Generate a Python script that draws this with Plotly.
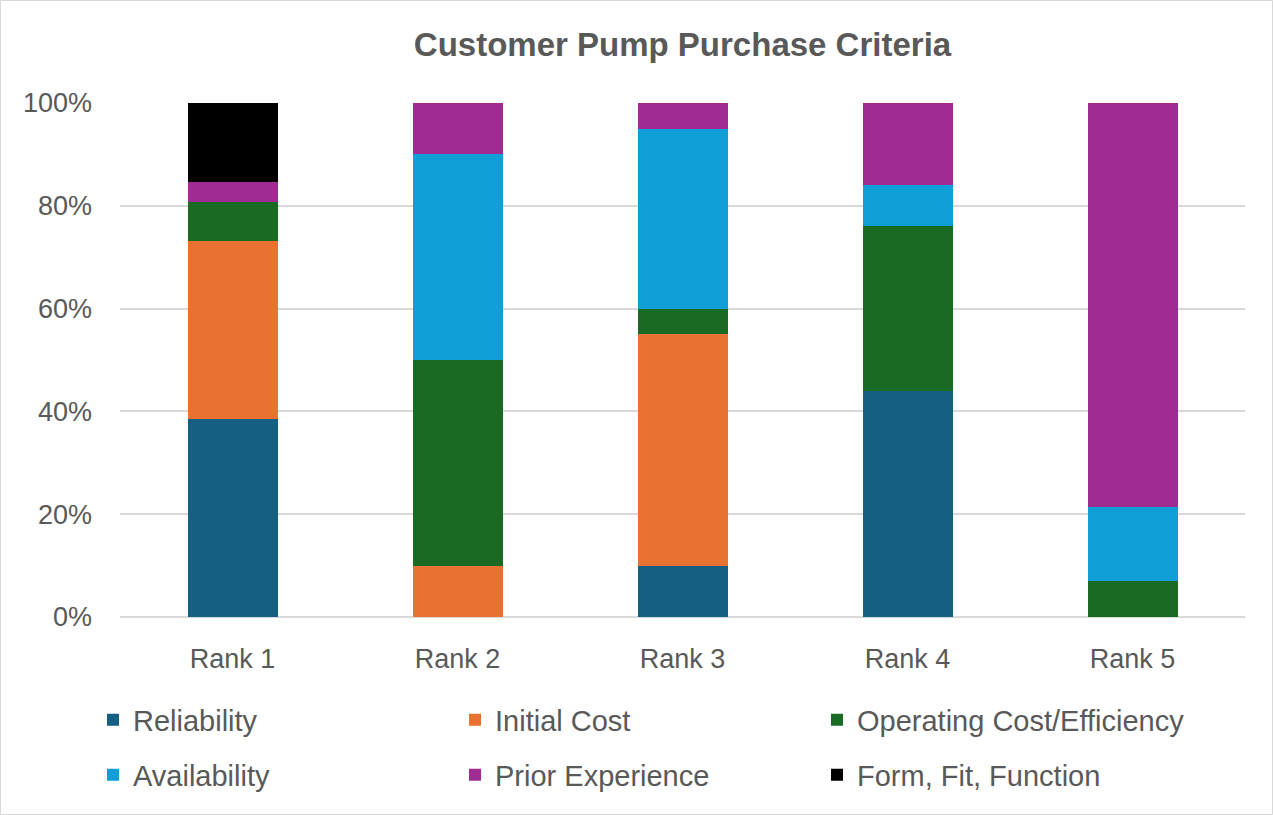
import plotly.graph_objects as go

categories = ["Rank 1", "Rank 2", "Rank 3", "Rank 4", "Rank 5"]
reliability = [38.5, 0, 10, 44, 0]
initial_cost = [34.6, 10, 45, 0, 0]
operating_cost = [7.7, 40, 5, 32, 7.1]
availability = [0, 40, 35, 8, 14.3]
prior_experience = [3.8, 10, 5, 16, 78.6]
form_fit_function = [15.4, 0, 0, 0, 0]

series = [
    ("Reliability", reliability, "#156082"),
    ("Initial Cost", initial_cost, "#E97132"),
    ("Operating Cost/Efficiency", operating_cost, "#196B24"),
    ("Availability", availability, "#0F9ED5"),
    ("Prior Experience", prior_experience, "#A02B93"),
    ("Form, Fit, Function", form_fit_function, "#000000"),
]

FONT = "Liberation Sans, Arial"
TXT = "#595959"

W, H = 1273, 815
L, R, T, B = 120, 28, 103, 198
pw, ph = W - L - R, H - T - B

col_x = [93, 455, 817]
row_y = [720, 775]

fig = go.Figure()
legends = {}
for i, (name, vals, color) in enumerate(series):
    key = "legend" if i == 0 else f"legend{i + 1}"
    fig.add_trace(go.Bar(
        x=categories, y=[v / 100 for v in vals], name=name, showlegend=True,
        marker=dict(color=color, line=dict(width=0)), legend=key,
    ))
    legends[key] = dict(
        orientation="h", xanchor="left", yanchor="middle",
        x=(col_x[i % 3] - L) / pw, y=-(row_y[i // 3] - 617) / ph,
        font=dict(family=FONT, size=29, color=TXT), bgcolor="rgba(0,0,0,0)",
    )

fig.update_layout(
    width=W, height=H, showlegend=True,
    margin=dict(l=L, r=R, t=T, b=B),
    barmode="stack", bargap=0.6,
    plot_bgcolor="white", paper_bgcolor="white",
    title=dict(text="<b>Customer Pump Purchase Criteria</b>", x=0.5, xref="paper",
               y=1 - 44 / H, yanchor="middle",
               font=dict(family=FONT, size=33, color=TXT)),
    font=dict(family=FONT, size=27, color=TXT),
    xaxis=dict(showgrid=False, showline=False, ticks="", ticklabelstandoff=23,
               tickfont=dict(family=FONT, size=27, color=TXT)),
    yaxis=dict(range=[0, 1], tickformat=".0%", dtick=0.2, showgrid=True,
               gridcolor="#D9D9D9", gridwidth=1.5, zeroline=True, zerolinecolor="#D9D9D9",
               zerolinewidth=1.5, showline=False, ticks="", ticklabelstandoff=27,
               tickfont=dict(family=FONT, size=27, color=TXT)),
    shapes=[dict(type="rect", xref="paper", yref="paper",
                 x0=-(L - 0.5) / pw, x1=(W - L - 0.5) / pw,
                 y0=-(B - 0.5) / ph, y1=1 + (T - 0.5) / ph,
                 line=dict(color="#D9D9D9", width=1), fillcolor="rgba(0,0,0,0)", layer="below")],
    **legends,
)

fig.write_html("out.html", config={"displayModeBar": False},
               post_script="document.body.style.margin='0';document.body.style.overflow='hidden';")
